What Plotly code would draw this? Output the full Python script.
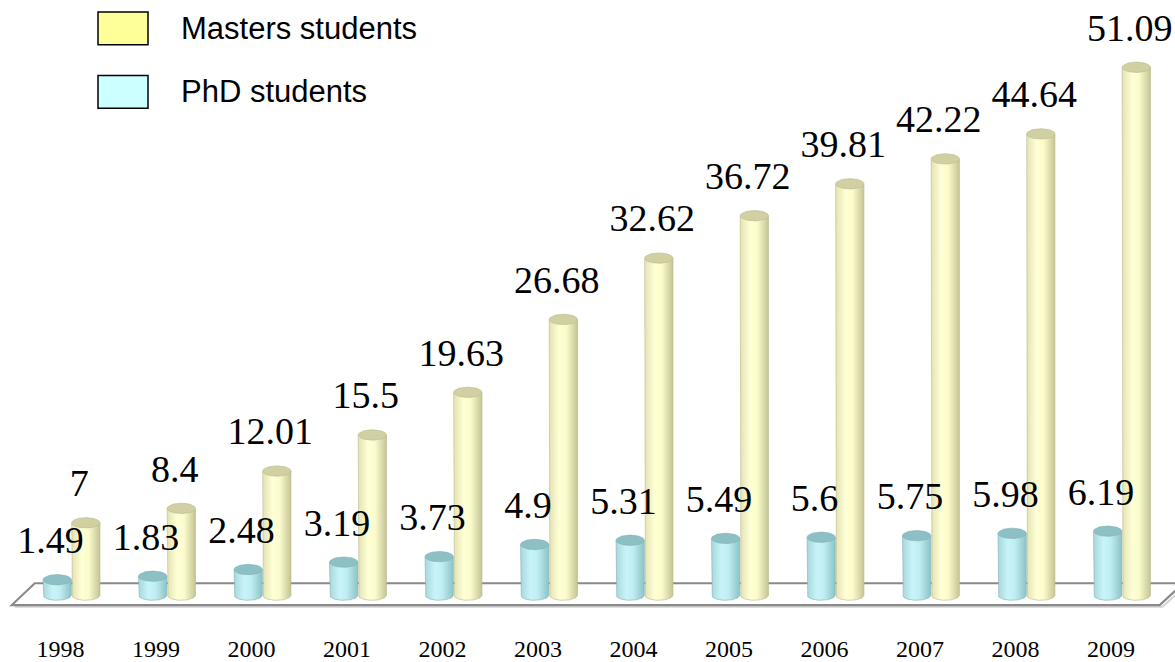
import numpy as np
import plotly.graph_objects as go

# ---------------- data ----------------
years = ['1998', '1999', '2000', '2001', '2002', '2003',
         '2004', '2005', '2006', '2007', '2008', '2009']
masters = [7, 8.4, 12.01, 15.5, 19.63, 26.68, 32.62, 36.72, 39.81, 42.22, 44.64, 51.09]
phd = [1.49, 1.83, 2.48, 3.19, 3.73, 4.9, 5.31, 5.49, 5.6, 5.75, 5.98, 6.19]
series_names = ['Masters students', 'PhD students']

# ---------------- geometry / style ----------------
W, H = 1175, 662
MB = 42                      # bottom margin (px)
PLOT_H = H - MB
X_RANGE = [-0.754, 11.55]
Y_RANGE = [-2.02, 57.6]

PHD_OFF, MAS_OFF = -0.155, 0.145
HALF_W = 0.148
ELL = 0.5                    # half-height of the ellipses (data units)

mas_scale = [[0, '#e2e2b2'], [0.35, '#ffffd6'], [0.6, '#fbfbcc'], [1, '#c4c496']]
phd_scale = [[0, '#a6d8dc'], [0.35, '#c8f4f8'], [0.6, '#bfeef2'], [1, '#8cc2c6']]
mas_cap, mas_edge = '#d0d0a2', '#b8b88c'
phd_cap, phd_edge = '#8cc0c4', '#7fb0b4'

fig = go.Figure()


def cylinder(c, h, scale, cap, edge):
    t = np.linspace(np.pi, 2 * np.pi, 40)
    bx = c + HALF_W * np.cos(t)
    by = ELL * np.sin(t)
    xs = [c - HALF_W] + list(bx) + [c + HALF_W]
    ys = [h] + list(by) + [h]
    fig.add_trace(go.Scatter(
        x=xs, y=ys, mode='lines', fill='toself',
        fillgradient=dict(type='horizontal', colorscale=scale),
        line=dict(width=0.6, color=edge), hoverinfo='skip', showlegend=False))
    t2 = np.linspace(0, 2 * np.pi, 60)
    fig.add_trace(go.Scatter(
        x=list(c + HALF_W * np.cos(t2)), y=list(h + ELL * np.sin(t2)),
        mode='lines', fill='toself', fillcolor=cap,
        line=dict(width=0.6, color=edge), hoverinfo='skip', showlegend=False))


idx = np.arange(len(years))
for i in idx:
    cylinder(i + PHD_OFF, phd[i], phd_scale, phd_cap, phd_edge)
    cylinder(i + MAS_OFF, masters[i], mas_scale, mas_cap, mas_edge)

LABEL_DY = 3.5
LABEL_DX = -0.07
label_font = dict(family='Liberation Serif', size=38, color='#000000')
fig.add_trace(go.Scatter(
    x=idx + PHD_OFF + LABEL_DX, y=np.array(phd) + LABEL_DY,
    text=[f'{v:g}' for v in phd], mode='text', textposition='middle center',
    textfont=label_font, hoverinfo='skip', showlegend=False))
fig.add_trace(go.Scatter(
    x=idx + MAS_OFF + LABEL_DX, y=np.array(masters) + LABEL_DY,
    text=[f'{v:g}' for v in masters], mode='text', textposition='middle center',
    textfont=label_font, hoverinfo='skip', showlegend=False))

# floor (3D base plane)
floor_path = 'M -0.63,-0.96 L 11.39,-0.96 L 11.64,1.15 L -0.39,1.15 Z'
shadow_path = 'M -0.60,-1.12 L 11.42,-1.12 L 11.67,0.99'
fig.add_shape(type='path', path=shadow_path, xref='x', yref='y', layer='below',
              line=dict(color='#d4d4d4', width=2))
fig.add_shape(type='path', path=floor_path, xref='x', yref='y', layer='below',
              fillcolor='#ffffff', line=dict(color='#8a8a8a', width=2.2))


# legend (drawn manually)
def fx(px):
    return px / W


def fy(py):
    return 1 - py / PLOT_H


legend_items = [(series_names[0], '#ffff99', 12, 45), (series_names[1], '#ccffff', 76, 109)]
for name, col, y0, y1 in legend_items:
    fig.add_shape(type='rect', xref='paper', yref='paper',
                  x0=fx(98), x1=fx(148), y0=fy(y1), y1=fy(y0),
                  fillcolor=col, line=dict(color='#000000', width=1.5))
    fig.add_annotation(xref='paper', yref='paper', x=fx(179), y=fy((y0 + y1) / 2),
                       text=name, showarrow=False, xanchor='left', yanchor='middle',
                       font=dict(family='Liberation Sans', size=31, color='#000000'))

fig.update_layout(
    width=W, height=H,
    margin=dict(l=0, r=0, t=0, b=MB, pad=0),
    paper_bgcolor='#ffffff', plot_bgcolor='#ffffff',
    showlegend=False,
    xaxis=dict(range=X_RANGE, showgrid=False, zeroline=False, showline=False,
               tickmode='array', tickvals=list(idx - 0.12), ticktext=years,
               ticks='', ticklabelstandoff=16,
               tickfont=dict(family='Liberation Serif', size=24, color='#000000'),
               fixedrange=True),
    yaxis=dict(range=Y_RANGE, visible=False, fixedrange=True),
)

fig.write_html('out.html',
               post_script="document.body.style.margin='0';document.body.style.overflow='hidden';",
               config={'displayModeBar': False})
